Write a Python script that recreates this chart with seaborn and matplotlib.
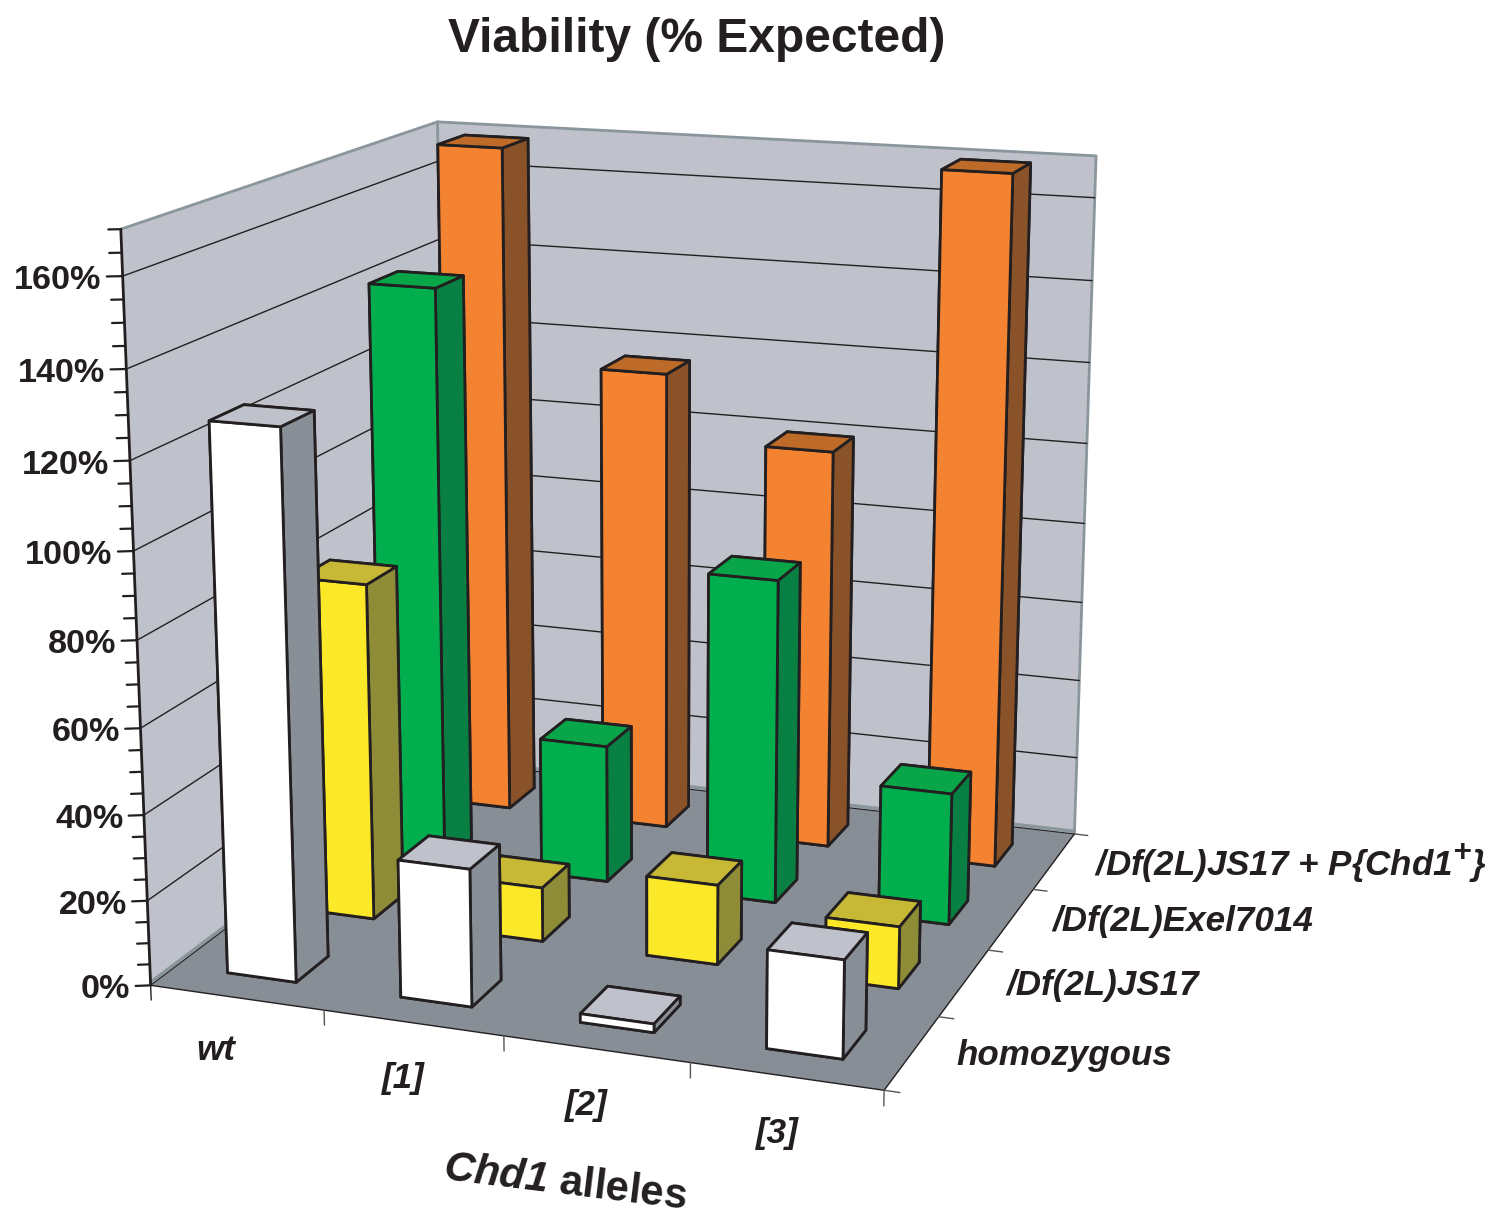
import numpy as np
import matplotlib
matplotlib.use("Agg")
import matplotlib.pyplot as plt
import matplotlib._mathtext as _mathtext
import seaborn as sns
from mpl_toolkits.mplot3d import proj3d
from mpl_toolkits.mplot3d.art3d import Poly3DCollection

alleles = ["wt", "[1]", "[2]", "[3]"]
rows = ["homozygous", "/Df(2L)JS17", "/Df(2L)Exel7014", r"/Df(2L)JS17 + P{Chd1$^{\mathbfit{+}}$}"]
homozygous = [127, 32, 2, 22.4]
df_js17 = [81, 13, 19, 14.6]
df_exel = [142, 34, 79, 32]
df_rescue = [169, 116, 100, 169.5]
pct_ticks = list(range(0, 161, 20))
minor_ticks = list(range(0, 171, 5))

sns.set_theme(style="white")
plt.rcParams["font.family"] = ["Liberation Sans", "DejaVu Sans"]
plt.rcParams["mathtext.fontset"] = "custom"
plt.rcParams["mathtext.rm"] = "Liberation Sans:bold"
plt.rcParams["mathtext.bf"] = "Liberation Sans:bold"
plt.rcParams["mathtext.it"] = "Liberation Sans:italic:bold"
plt.rcParams["mathtext.bfit"] = "Liberation Sans:italic:bold"
_mathtext.SHRINK_FACTOR = 0.9

W, H = 1503, 1225
fig = plt.figure(figsize=(W / 100, H / 100), dpi=100, facecolor="white")
# square axes, larger than the figure, so nothing is clipped by the 3D viewport
SIDE, AX_L, AX_B = 1600, -50, -200
ax = fig.add_axes([AX_L / W, AX_B / H, SIDE / W, SIDE / H], projection="3d")
ax.set_proj_type("persp")
ax.view_init(15.053, -69.854, 0.085)
ax.set_box_aspect((1, 0.993, 1.002), zoom=1.874)
s, tx, ty = 3575.26, 638.37, 557.43
vx0 = (AX_L - tx) / s
vy0 = (AX_B - (H - ty)) / s

def lims():
    ax.set_xlim(0, 4, view_margin=0)
    ax.set_ylim(0, 4, view_margin=0)
    ax.set_zlim(0, 170, view_margin=0)
    ax.viewLim.intervalx = (vx0, vx0 + SIDE / s)
    ax.viewLim.intervaly = (vy0, vy0 + SIDE / s)
lims()
ax.set_xticks([]); ax.set_yticks([]); ax.set_zticks([])
ax.set_axis_off()
ax.computed_zorder = False
ax.patch.set_alpha(0)

def text3(x, y, z, t, **kw):
    px, py, _ = proj3d.proj_transform(x, y, z, ax.get_proj())
    ax.text2D(px, py, t, transform=ax.transData, **kw)

wall = "#bfc2ca"; floor = "#878e95"; edge = "#231f20"; rim = "#8a959c"
ax.add_collection3d(Poly3DCollection([[(0,0,0),(0,4,0),(0,4,170),(0,0,170)],[(0,4,0),(4,4,0),(4,4,170),(0,4,170)]],
    facecolors=wall, edgecolors="none", zorder=1))
ax.add_collection3d(Poly3DCollection([[(0,0,0),(4,0,0),(4,4,0),(0,4,0)]], facecolors=floor, edgecolors="none", zorder=2))
ax.plot([0,0,4,4],[0,4,4,4],[170,170,170,0], color=rim, lw=2, zorder=3)
ax.plot([0,0],[4,4],[0,170], color=rim, lw=2, zorder=3)
ax.plot([0,0,4],[0,4,4],[0.7,0.7,0.7], color=rim, lw=2.5, zorder=3)
ax.plot([0,0,4],[0,4,4],[0,0,0], color=edge, lw=0.8, zorder=3)
for z in pct_ticks[1:]:
    ax.plot([0,0,4],[0,4,4],[z,z,z], color=edge, lw=1, zorder=3)
ax.plot([0,4,4],[0,0,4],[0,0,0], color=edge, lw=1, zorder=4)
ax.plot([0,0],[0,0],[0,170], color=edge, lw=2, zorder=4)
for z in minor_ticks:
    d = 0.07 if z % 20 == 0 else 0.055
    ax.plot([0,-d],[0,-d/2],[z,z], color=edge, lw=1.6, zorder=4)
for z in pct_ticks:
    text3(-0.095,-0.047,z-0.9,f"{z}%",ha="right",va="center",fontsize=24.6,fontweight="bold",color=edge,zorder=5)
for i in range(5):
    ax.plot([i,i],[0,0],[0,-3.5], color="#555555" if i else edge, lw=1, zorder=4)
    ax.plot([4,4.08],[i,i],[0,0], color="#555555", lw=1, zorder=4)

series = [homozygous, df_js17, df_exel, df_rescue]
styles = [("#ffffff","#888f96","#bfc2ca"),("#fbe829","#8f8c38","#c7b935"),("#00ae4d","#087f43","#09a649"),("#f38231","#8a5228","#be6b2a")]
w, dp = 0.4, 0.4
for j in range(3,-1,-1):
    front, side, top = styles[j]
    for i in range(4):
        ax.bar3d(i+0.5-w/2, j+0.5-dp/2, 0, w, dp, series[j][i], color=[side,top,front,side,side,side],
                 edgecolor=edge, linewidth=2, shade=False, zorder=10+(3-j)*10+i)
lims()

lab = dict(fontsize=25.2,fontweight="bold",fontstyle="italic",color=edge,zorder=100)
for i,t in enumerate(alleles):
    text3(i+(0.44 if i==0 else 0.5),-0.14,-10.5,t,ha="center",va="center",**lab)
for j,t in enumerate(rows):
    text3(4.23,j+0.5,0.7,t,ha="left",va="center",**lab)
fig.text(697/W,1-39/H,"Viability (% Expected)",ha="center",va="center",fontsize=34.5,fontweight="bold",color=edge)
fig.text(565/W,1-1183/H,r"$\mathbfit{Chd1}$ alleles",ha="center",va="center",fontsize=30.2,fontweight="bold",color=edge,rotation=-7)
fig.savefig("out.png",dpi=100)
